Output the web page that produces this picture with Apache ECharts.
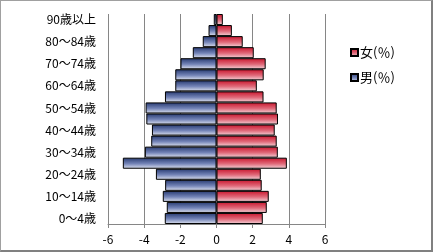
<!DOCTYPE html>
<html><head><meta charset="utf-8">
<script src="https://cdn.jsdelivr.net/npm/echarts@6/dist/echarts.min.js"></script>
<style>
html,body{margin:0;padding:0;background:#fff;}
#c{width:433px;height:252px;box-sizing:border-box;border-left:1px solid #a0a0a0;border-top:1px solid #a0a0a0;border-right:2px solid #808080;border-bottom:2px solid #808080;}
</style></head>
<body><div id="c"></div>
<script>
const categories = ['0～4歳','5～9歳','10～14歳','15～19歳','20～24歳','25～29歳','30～34歳','35～39歳','40～44歳','45～49歳','50～54歳','55～59歳','60～64歳','65～69歳','70～74歳','75～79歳','80～84歳','85～89歳','90歳以上'];
const female = [2.56, 2.78, 2.89, 2.50, 2.45, 3.89, 3.39, 3.33, 3.22, 3.40, 3.33, 2.60, 2.23, 2.61, 2.72, 2.06, 1.45, 0.85, 0.35];
const male = [-2.86, -2.75, -2.97, -2.84, -3.35, -5.18, -3.96, -3.61, -3.57, -3.88, -3.92, -2.85, -2.28, -2.28, -1.99, -1.31, -0.76, -0.44, -0.15];
const xTicks = { min: -6, max: 6, interval: 2 };
const seriesNames = ['女(％)', '男(％)'];

const chart = echarts.init(document.getElementById('c'), null, {renderer:'canvas'});
const font = '"Noto Sans CJK JP", sans-serif';
const grad = (a, b, c) => new echarts.graphic.LinearGradient(0, 0, 0, 1, [
  {offset:0, color:a},{offset:0.55, color:b},{offset:1, color:c}]);
chart.setOption({
  animation:false,
  backgroundColor:'#fff',
  grid:{left:107, right:106, top:13, bottom:26},
  legend:{
    orient:'vertical', left:344, top:40, itemGap:12,
    itemWidth:7, itemHeight:7, icon:'rect',
    data:seriesNames,
    textStyle:{fontFamily:font, fontSize:13, color:'#000', padding:[0,0,0,-3]}
  },
  xAxis:{
    type:'value', min:xTicks.min, max:xTicks.max, interval:xTicks.interval,
    axisLine:{show:true, onZero:false, lineStyle:{color:'#868686'}},
    axisTick:{show:true, length:4, lineStyle:{color:'#868686'}},
    axisLabel:{fontFamily:font, fontSize:12, color:'#000', margin:9},
    splitLine:{show:true, lineStyle:{color:'#868686', width:1}}
  },
  yAxis:{
    type:'category', data:categories,
    axisLine:{show:false}, axisTick:{show:false},
    axisLabel:{interval:1, fontFamily:font, fontSize:12, color:'#000', margin:12}
  },
  series:[
    {name:seriesNames[0], type:'bar', data:female, barCategoryGap:'0%', barGap:'-100%',
     itemStyle:{color:grad('#c8142c','#e06a7a','#f4d6db'), borderColor:'#000', borderWidth:1}},
    {name:seriesNames[1], type:'bar', data:male, barCategoryGap:'0%', barGap:'-100%',
     itemStyle:{color:grad('#25386f','#7585b8','#e2e6f2'), borderColor:'#000', borderWidth:1}}
  ]
});
</script></body></html>
